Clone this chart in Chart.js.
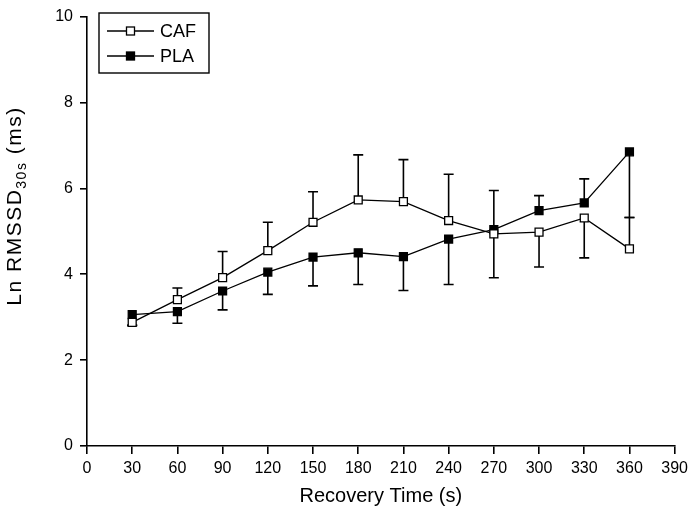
<!DOCTYPE html>
<html>
<head>
<meta charset="utf-8">
<script src="https://cdn.jsdelivr.net/npm/chart.js@4.4.1/dist/chart.umd.min.js"></script>
<style>
  html, body { margin: 0; padding: 0; background: #fff; }
  #wrap { width: 693px; height: 514px; }
</style>
</head>
<body>
<div id="wrap"><canvas id="c" width="693" height="514"></canvas></div>
<script>
// ---- data ----
const timeSec = [30, 60, 90, 120, 150, 180, 210, 240, 270, 300, 330, 360];
const xTicks = [0, 30, 60, 90, 120, 150, 180, 210, 240, 270, 300, 330, 360, 390];
const yTicks = [0, 2, 4, 6, 8, 10];

const cafMean    = [2.88, 3.41, 3.92, 4.55, 5.21, 5.73, 5.69, 5.25, 4.94, 4.98, 5.31, 4.59];
const cafErrUp   = [0,    0.27, 0.61, 0.66, 0.71, 1.05, 0.98, 1.08, 0,    0,    0,    0.73];
const cafErrDown = [0.07, 0,    0,    0,    0,    0,    0,    0,    1.02, 0.81, 0.93, 0];

const plaMean    = [3.06, 3.13, 3.61, 4.05, 4.40, 4.50, 4.41, 4.82, 5.04, 5.48, 5.66, 6.85];
const plaErrUp   = [0,    0,    0,    0,    0,    0,    0,    0,    0.91, 0.35, 0.56, 0];
const plaErrDown = [0.25, 0.27, 0.44, 0.52, 0.67, 0.74, 0.79, 1.06, 0,    0,    0,    1.53];

const seriesLabels = ['CAF', 'PLA'];
const xTitle = 'Recovery Time (s)';
const yTitleMain = 'Ln RMSSD';
const yTitleSub = '30s';
const yTitleTail = ' (ms)';

const FONT = "'Liberation Sans', Arial, sans-serif";

const errBars = [
  { up: cafErrUp, down: cafErrDown },
  { up: plaErrUp, down: plaErrDown }
];

const errorBarPlugin = {
  id: 'errorBars',
  beforeDatasetsDraw(chart) {
    const ctx = chart.ctx;
    const xs = chart.scales.x, ys = chart.scales.y;
    ctx.save();
    ctx.strokeStyle = '#000';
    ctx.lineWidth = 1.6;
    chart.data.datasets.forEach((ds, di) => {
      const eb = errBars[di];
      ds.data.forEach((p, i) => {
        const x = xs.getPixelForValue(p.x);
        const y0 = ys.getPixelForValue(p.y);
        const ends = [];
        if (eb.up[i] > 0) ends.push(ys.getPixelForValue(p.y + eb.up[i]));
        if (eb.down[i] > 0) ends.push(ys.getPixelForValue(p.y - eb.down[i]));
        ends.forEach(ye => {
          ctx.beginPath();
          ctx.moveTo(x, y0);
          ctx.lineTo(x, ye);
          ctx.moveTo(x - 5, ye);
          ctx.lineTo(x + 5, ye);
          ctx.stroke();
        });
      });
    });
    ctx.restore();
  }
};

const titlesLegendPlugin = {
  id: 'titlesLegend',
  afterDraw(chart) {
    const ctx = chart.ctx;
    const area = chart.chartArea;
    ctx.save();
    ctx.fillStyle = '#000';
    // x title
    ctx.font = '20px ' + FONT;
    ctx.textAlign = 'center';
    ctx.textBaseline = 'alphabetic';
    ctx.fillText(xTitle, (area.left + area.right) / 2, 502);

    // y title (rotated, with subscript)
    const mainFont = '21px ' + FONT;
    const subFont = '14px ' + FONT;
    if ('letterSpacing' in ctx) ctx.letterSpacing = '1.5px';
    ctx.font = mainFont;
    const w1 = ctx.measureText(yTitleMain).width;
    const w3 = ctx.measureText(yTitleTail).width;
    ctx.font = subFont;
    const w2 = ctx.measureText(yTitleSub).width;
    const total = w1 + w2 + w3;
    ctx.translate(21, 206);
    ctx.rotate(-Math.PI / 2);
    ctx.textAlign = 'left';
    let cx = -total / 2;
    ctx.font = mainFont;
    ctx.fillText(yTitleMain, cx, 0);
    cx += w1;
    ctx.font = subFont;
    ctx.fillText(yTitleSub, cx, 5);
    cx += w2;
    ctx.font = mainFont;
    ctx.fillText(yTitleTail, cx, 0);
    ctx.restore();

    // legend
    ctx.save();
    ctx.strokeStyle = '#000';
    ctx.lineWidth = 1.4;
    ctx.strokeRect(99, 13, 110, 60);
    chart.data.datasets.forEach((ds, di) => {
      const ly = 31 + di * 25;
      ctx.beginPath();
      ctx.lineWidth = 1.3;
      ctx.moveTo(107, ly);
      ctx.lineTo(154, ly);
      ctx.stroke();
      const s = 8;
      ctx.fillStyle = ds.pointBackgroundColor;
      ctx.fillRect(130.5 - s / 2, ly - s / 2, s, s);
      ctx.strokeRect(130.5 - s / 2, ly - s / 2, s, s);
      ctx.fillStyle = '#000';
      ctx.font = '18px ' + FONT;
      ctx.textAlign = 'left';
      ctx.textBaseline = 'middle';
      ctx.fillText(ds.label, 160, ly + 1);
    });
    ctx.restore();
  }
};

const toPts = (vals) => vals.map((v, i) => ({ x: timeSec[i], y: v }));

new Chart(document.getElementById('c'), {
  type: 'line',
  data: {
    datasets: [
      {
        label: seriesLabels[0],
        data: toPts(cafMean),
        borderColor: '#000',
        borderWidth: 1.3,
        pointStyle: 'rect',
        pointRadius: 5.6,
        pointBorderWidth: 1.3,
        pointBorderColor: '#000',
        pointBackgroundColor: '#fff',
        tension: 0
      },
      {
        label: seriesLabels[1],
        data: toPts(plaMean),
        borderColor: '#000',
        borderWidth: 1.3,
        pointStyle: 'rect',
        pointRadius: 5.6,
        pointBorderWidth: 1.3,
        pointBorderColor: '#000',
        pointBackgroundColor: '#000',
        tension: 0
      }
    ]
  },
  options: {
    responsive: false,
    animation: false,
    events: [],
    layout: { padding: { left: 0, top: 10, right: 16, bottom: 0 } },
    plugins: { legend: { display: false }, tooltip: { enabled: false } },
    scales: {
      x: {
        type: 'linear',
        min: 0, max: 390,
        afterFit(s) { s.height = 68; },
        afterBuildTicks(s) { s.ticks = xTicks.map(v => ({ value: v })); },
        grid: { drawOnChartArea: false, drawTicks: true, tickLength: 8, color: '#000', lineWidth: 1.6 },
        border: { display: true, color: '#000', width: 1.6 },
        ticks: { color: '#000', font: { family: FONT, size: 16 }, padding: 5, maxRotation: 0, autoSkip: false }
      },
      y: {
        type: 'linear',
        min: 0, max: 10,
        afterFit(s) { s.width = 87; },
        afterBuildTicks(s) { s.ticks = yTicks.map(v => ({ value: v })); },
        grid: { drawOnChartArea: false, drawTicks: true, tickLength: 7, color: '#000', lineWidth: 1.6 },
        border: { display: true, color: '#000', width: 1.6 },
        ticks: { color: '#000', font: { family: FONT, size: 16 }, padding: 7 }
      }
    }
  },
  plugins: [errorBarPlugin, titlesLegendPlugin]
});
</script>
</body>
</html>
